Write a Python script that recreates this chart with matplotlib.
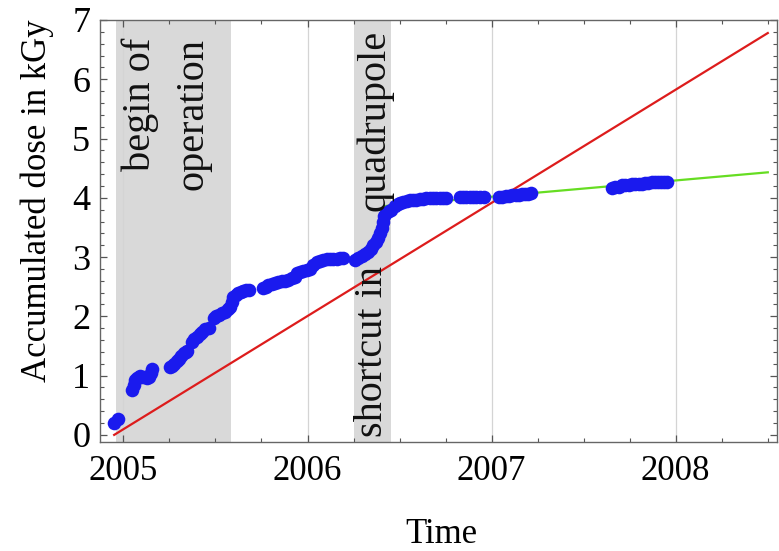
import matplotlib
matplotlib.use("Agg")
import matplotlib.pyplot as plt
from matplotlib.ticker import MultipleLocator

plt.rcParams['font.family'] = ['Liberation Serif', 'DejaVu Serif']

# Dose measurements (decimal year, accumulated dose in kGy)
dates = [
    2004.948, 2004.972,
    2005.047, 2005.056, 2005.065, 2005.074, 2005.083, 2005.092, 2005.101, 2005.115, 2005.128, 2005.140, 2005.150, 2005.158,
    2005.255, 2005.265, 2005.275, 2005.290, 2005.302, 2005.315, 2005.327, 2005.338, 2005.348,
    2005.372, 2005.385, 2005.400, 2005.414, 2005.427, 2005.445, 2005.463,
    2005.490, 2005.503, 2005.517, 2005.535, 2005.553, 2005.567, 2005.580, 2005.590, 2005.598, 2005.612, 2005.625, 2005.640, 2005.652, 2005.666, 2005.680,
    2005.760, 2005.774, 2005.788, 2005.806, 2005.824, 2005.842, 2005.860, 2005.878, 2005.896, 2005.914, 2005.932, 2005.945, 2005.960, 2005.978, 2005.996,
    2006.012, 2006.030, 2006.050, 2006.068, 2006.086, 2006.104, 2006.122, 2006.140, 2006.158, 2006.176, 2006.194,
    2006.257, 2006.275, 2006.294, 2006.312, 2006.330, 2006.344, 2006.357, 2006.370, 2006.384, 2006.393, 2006.402,
    2006.410, 2006.418, 2006.426, 2006.440, 2006.456, 2006.474, 2006.490, 2006.505, 2006.520, 2006.538, 2006.555,
    2006.573, 2006.591, 2006.609, 2006.628, 2006.646, 2006.664, 2006.682, 2006.700, 2006.718, 2006.736, 2006.750,
    2006.827, 2006.845, 2006.862, 2006.880, 2006.898, 2006.917, 2006.935, 2006.957,
    2007.040, 2007.058, 2007.076, 2007.094, 2007.112, 2007.130, 2007.148, 2007.166, 2007.184, 2007.200, 2007.215,
    2007.655, 2007.672, 2007.690, 2007.708, 2007.726, 2007.744, 2007.762, 2007.780, 2007.798, 2007.816,
    2007.834, 2007.852, 2007.870, 2007.888, 2007.906, 2007.922, 2007.938, 2007.950,
]
doses = [
    0.20, 0.26,
    0.76, 0.84, 0.92, 0.96, 0.98, 0.99, 0.98, 0.97, 0.96, 0.97, 1.04, 1.12,
    1.15, 1.17, 1.19, 1.24, 1.28, 1.33, 1.38, 1.40, 1.42,
    1.57, 1.62, 1.66, 1.70, 1.74, 1.78, 1.80,
    1.97, 2.00, 2.02, 2.05, 2.08, 2.12, 2.16, 2.25, 2.33, 2.36, 2.39, 2.41, 2.42, 2.44, 2.45,
    2.47, 2.50, 2.53, 2.55, 2.56, 2.58, 2.59, 2.60, 2.61, 2.64, 2.67, 2.73, 2.75, 2.77, 2.78,
    2.80, 2.86, 2.92, 2.94, 2.95, 2.96, 2.96, 2.96, 2.97, 2.98, 2.98,
    2.95, 2.98, 3.01, 3.05, 3.09, 3.14, 3.20, 3.26, 3.32, 3.41, 3.49,
    3.60, 3.70, 3.75, 3.78, 3.80, 3.86, 3.89, 3.92, 3.93, 3.95, 3.96,
    3.96, 3.97, 3.98, 3.98, 3.99, 3.99, 3.99, 4.00, 4.00, 4.00, 4.00,
    4.01, 4.01, 4.01, 4.01, 4.02, 4.02, 4.02, 4.02,
    4.02, 4.02, 4.03, 4.03, 4.04, 4.05, 4.05, 4.06, 4.07, 4.07, 4.08,
    4.16, 4.18, 4.19, 4.21, 4.22, 4.22, 4.23, 4.23, 4.24, 4.24,
    4.25, 4.25, 4.26, 4.26, 4.26, 4.27, 4.27, 4.27,
]

# Reference line and late-period linear fit
ref_dates = [2004.95, 2008.50]
ref_doses = [0.00, 6.78]
fit_dates = [2006.42, 2008.50]
fit_doses = [3.86, 4.43]

# Highlighted periods
periods = [(2004.96, 2005.585), (2006.25, 2006.455)]
years = [2005, 2006, 2007, 2008]

fig = plt.figure(figsize=(7.79, 5.51), dpi=100)
ax = fig.add_axes([100/779, 1 - 442/551, 677/779, 422/551])

for start, end in periods:
    ax.axvspan(start, end, color='#d9d9d9', lw=0, zorder=0)
for yr in years:
    ax.axvline(yr, color='#d4d4d4', lw=0.9, zorder=0.5)

ax.plot(ref_dates, ref_doses, color='#dd1c1c', lw=1.6, zorder=2)
ax.plot(fit_dates, fit_doses, color='#66dd22', lw=1.6, zorder=2)
ax.plot(dates, doses, 'o', color='#1a1aee', ms=9.8, mec='none', zorder=3)

ax.set_xlim(2004.873, 2008.55)
ax.set_ylim(-0.12, 7.0)
ax.set_xticks(years)
ax.set_xticklabels([str(y) for y in years])
ax.xaxis.set_minor_locator(MultipleLocator(0.25))
ax.set_yticks(range(8))
ax.yaxis.set_minor_locator(MultipleLocator(0.2))

ax.tick_params(which='both', direction='in', top=True, right=True, color='#555555')
ax.tick_params(which='major', length=5, width=0.9)
ax.tick_params(which='minor', length=2.8, width=0.8)
ax.tick_params(axis='x', which='major', labelsize=25, pad=9)
ax.tick_params(axis='y', which='major', labelsize=26, pad=7)
for s in ax.spines.values():
    s.set_color('#666666')
    s.set_linewidth(1.0)

txt = dict(rotation=90, rotation_mode='anchor', fontsize=29, color='#111111', zorder=4)
ax.text(2005.146, 6.71, 'begin of', ha='right', va='baseline', **txt)
ax.text(2005.432, 6.69, 'operation', ha='right', va='baseline', **txt)
ax.text(2006.405, -0.03, 'shortcut in', ha='left', va='baseline', **txt)
ax.text(2006.42, 6.83, 'quadrupole', ha='right', va='baseline', **txt)

fig.text(441/779, 1 - 543/551, 'Time', ha='center', va='baseline', fontsize=25)
fig.text(46/779, 1 - 201/551, 'Accumulated dose in kGy', rotation=90,
         rotation_mode='anchor', ha='center', va='baseline', fontsize=25)

fig.savefig('out.png', dpi=100)
